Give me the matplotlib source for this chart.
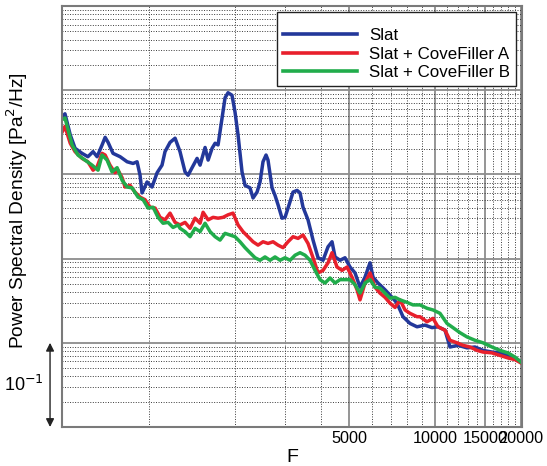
import matplotlib
matplotlib.use('Agg')
import matplotlib.pyplot as plt
from matplotlib.ticker import FixedLocator, LogLocator, NullFormatter, FixedFormatter
import numpy as np

plt.rcParams['font.family'] = ['Liberation Sans', 'DejaVu Sans']

# spectra, PSD in dB (re 1 Pa^2/Hz)
f_slat = [496, 508, 530, 551, 583, 611, 637, 658, 685, 702, 719, 748, 792, 838, 879, 908,
          930, 945, 984, 1024, 1067, 1110, 1137, 1184, 1233, 1283, 1336, 1369, 1414, 1472,
          1508, 1570, 1609, 1661, 1702, 1743, 1800, 1844, 1889, 1950, 1998, 2047, 2114,
          2166, 2254, 2310, 2386, 2444, 2503, 2565, 2606, 2692, 2758, 2825, 2917, 2989,
          3062, 3188, 3293, 3373, 3455, 3597, 3745, 3899, 4059, 4225, 4364, 4471, 4654,
          4845, 5044, 5252, 5467, 5691, 5926, 6069, 6319, 6685, 7076, 7367, 7728, 8176,
          8651, 9226, 9761, 10245, 10839, 11283, 12034, 12938, 13799, 14722, 15822, 16877,
          18000, 19049, 20000]
db_slat = [-13.2, -12.8, -15.3, -16.9, -17.5, -17.9, -17.3, -17.9, -16.5, -15.6, -16.2,
           -17.5, -17.9, -18.5, -18.7, -18.5, -20.1, -22.2, -20.9, -21.5, -19.8, -18.9,
           -17.3, -16.2, -15.7, -17.3, -19.7, -20.1, -19.2, -18.1, -18.9, -16.8, -18.3,
           -16.9, -16.3, -16.5, -13.3, -10.9, -10.3, -10.6, -12.6, -15.3, -19.7, -21.3,
           -21.6, -22.8, -22.1, -20.9, -18.5, -17.7, -18.3, -21.6, -22.5, -23.6, -25.2,
           -25.1, -24.0, -22.1, -21.9, -22.2, -23.9, -25.4, -27.8, -29.9, -30.2, -28.6,
           -28.0, -29.8, -30.2, -29.9, -31.0, -31.7, -33.4, -32.2, -30.5, -32.2, -32.9,
           -33.7, -34.6, -35.3, -36.9, -37.7, -38.1, -37.9, -38.2, -38.1, -38.5, -40.5,
           -40.3, -40.6, -40.5, -40.9, -41.1, -41.2, -41.5, -41.8, -42.3]

f_cfa = [496, 508, 530, 551, 583, 611, 637, 658, 685, 702, 730, 760, 779, 805, 824, 858,
         893, 930, 968, 1008, 1050, 1093, 1137, 1184, 1233, 1283, 1336, 1391, 1448, 1508,
         1545, 1609, 1674, 1743, 1814, 1889, 1966, 2047, 2131, 2219, 2310, 2405, 2503,
         2606, 2714, 2825, 2941, 3062, 3188, 3319, 3455, 3597, 3745, 3899, 4059, 4225,
         4364, 4543, 4730, 4924, 5126, 5337, 5467, 5691, 5926, 6168, 6422, 6685, 6964,
         7249, 7546, 7855, 8176, 8651, 8863, 9376, 9840, 10245, 10839, 11283, 11937,
         12527, 13254, 14024, 14722, 15822, 16877, 18000, 19049, 20000]
db_cfa = [-15.0, -14.3, -16.3, -17.3, -18.1, -18.5, -19.5, -19.1, -17.5, -17.7, -18.9,
          -19.8, -19.5, -20.4, -21.5, -21.3, -22.1, -22.7, -23.0, -23.9, -24.0, -25.1,
          -25.4, -24.6, -25.7, -26.0, -25.7, -26.4, -25.2, -25.8, -24.5, -25.4, -25.1,
          -25.2, -25.1, -24.8, -24.6, -26.0, -26.8, -27.4, -28.0, -28.4, -28.0, -28.2,
          -28.0, -28.4, -28.7, -28.0, -27.4, -27.6, -27.2, -28.2, -29.9, -31.7, -31.4,
          -30.5, -29.3, -31.0, -31.4, -31.0, -32.2, -33.7, -34.9, -32.9, -31.7, -33.4,
          -34.1, -34.6, -35.3, -35.8, -34.9, -36.1, -36.5, -36.9, -36.9, -37.5, -37.1,
          -38.1, -38.5, -39.7, -40.0, -40.3, -40.5, -40.9, -41.1, -41.2, -41.5, -41.8,
          -42.0, -42.4]

f_cfb = [496, 508, 538, 564, 597, 632, 663, 685, 713, 742, 773, 805, 838, 872, 915, 953,
         992, 1033, 1075, 1119, 1165, 1213, 1263, 1283, 1336, 1391, 1448, 1508, 1570, 1635,
         1702, 1771, 1844, 1919, 1998, 2080, 2166, 2254, 2348, 2444, 2544, 2649, 2758,
         2871, 2989, 3112, 3240, 3373, 3512, 3656, 3806, 3962, 4125, 4294, 4471, 4654,
         4845, 5044, 5252, 5467, 5691, 5926, 6168, 6422, 6685, 6964, 7249, 7546, 7982,
         8376, 8863, 9376, 9840, 10411, 11014, 11558, 12229, 12938, 13799, 14722, 15822,
         16877, 18000, 19049, 20000]
db_cfb = [-13.5, -13.3, -16.5, -17.7, -18.3, -18.9, -19.5, -17.7, -18.3, -19.7, -19.2,
          -20.7, -21.5, -21.6, -22.7, -23.0, -24.0, -23.9, -25.1, -25.8, -25.7, -26.3,
          -26.0, -26.4, -26.8, -27.4, -26.4, -26.8, -25.8, -26.8, -27.4, -27.8, -27.0,
          -27.2, -27.4, -28.0, -28.7, -29.3, -29.9, -30.2, -29.8, -30.2, -29.8, -30.2,
          -29.9, -30.2, -29.6, -29.3, -29.6, -30.2, -31.4, -32.5, -32.9, -32.3, -32.9,
          -32.5, -32.5, -32.5, -33.1, -34.1, -32.9, -32.5, -33.4, -33.5, -34.1, -34.7,
          -34.6, -34.9, -35.2, -35.5, -35.5, -35.9, -36.1, -36.5, -37.7, -38.2, -38.8,
          -39.3, -39.7, -40.0, -40.5, -40.9, -41.2, -41.7, -42.3]

labels = ['Slat', 'Slat + CoveFiller A', 'Slat + CoveFiller B']
colors = ['#23389a', '#e8202c', '#21ac4b']

fig = plt.figure(figsize=(5.47, 4.66), dpi=100)
ax = fig.add_axes([62 / 547, 1 - 427 / 466, 460 / 547, 421 / 466])

for f, db, lab, c in zip([f_slat, f_cfa, f_cfb], [db_slat, db_cfa, db_cfb], labels, colors):
    ax.plot(f, 10 ** (np.array(db) / 10), color=c, lw=2.5, label=lab)

ax.set_xscale('log')
ax.set_yscale('log')
ax.set_xlim(496, 20150)
ax.set_ylim(1e-5, 1)

# x grid: solid every 5000, dotted every 1000
ax.xaxis.set_major_locator(FixedLocator([5000, 10000, 15000, 20000]))
ax.xaxis.set_major_formatter(FixedFormatter(['5000', '10000', '15000', '20000']))
minor_x = [k * 1000 for k in range(1, 21) if k % 5]
ax.xaxis.set_minor_locator(FixedLocator(minor_x))
ax.xaxis.set_minor_formatter(NullFormatter())
ax.yaxis.set_major_locator(LogLocator(base=10, numticks=10))
ax.yaxis.set_minor_locator(LogLocator(base=10, subs=np.arange(2, 10), numticks=20))
ax.yaxis.set_major_formatter(NullFormatter())
ax.yaxis.set_minor_formatter(NullFormatter())

ax.grid(which='major', color='#8c8c8c', lw=1.3, ls='-')
ax.grid(which='minor', color='#3a3a3a', lw=0.7, ls=(0, (1, 1.6)))
ax.set_axisbelow(True)
ax.tick_params(which='both', length=0)
ax.tick_params(axis='x', labelsize=11.7, pad=3)
for s in ax.spines.values():
    s.set_color('#7a7a7a')
    s.set_linewidth(1.5)

ax.set_xlabel('F', fontsize=14, labelpad=2)
ax.set_ylabel('Power Spectral Density [Pa$^2$/Hz]', fontsize=13.8)
ax.yaxis.set_label_coords(-0.07, 0.515)

# one-decade scale bar
ax.annotate('', xy=(-0.026, 1e-5), xytext=(-0.026, 1e-4),
            xycoords=('axes fraction', 'data'), textcoords=('axes fraction', 'data'),
            arrowprops=dict(arrowstyle='<|-|>', color='#222222', lw=1.0,
                            mutation_scale=12, shrinkA=0, shrinkB=0),
            annotation_clip=False)
ax.text(-0.041, 10 ** -4.5, '10$^{-1}$', transform=ax.get_yaxis_transform(),
        ha='right', va='center', fontsize=13)

leg = ax.legend(loc='upper right', fontsize=12.2, handlelength=4.4, fancybox=False,
                framealpha=1, edgecolor='#222222', borderaxespad=0.35,
                labelspacing=0.2, handletextpad=0.7, borderpad=0.35,
                title=' ', title_fontsize=5)
leg.get_frame().set_linewidth(1.0)
for h in leg.get_lines():
    h.set_linewidth(2.6)

fig.savefig('out.png', dpi=100)
